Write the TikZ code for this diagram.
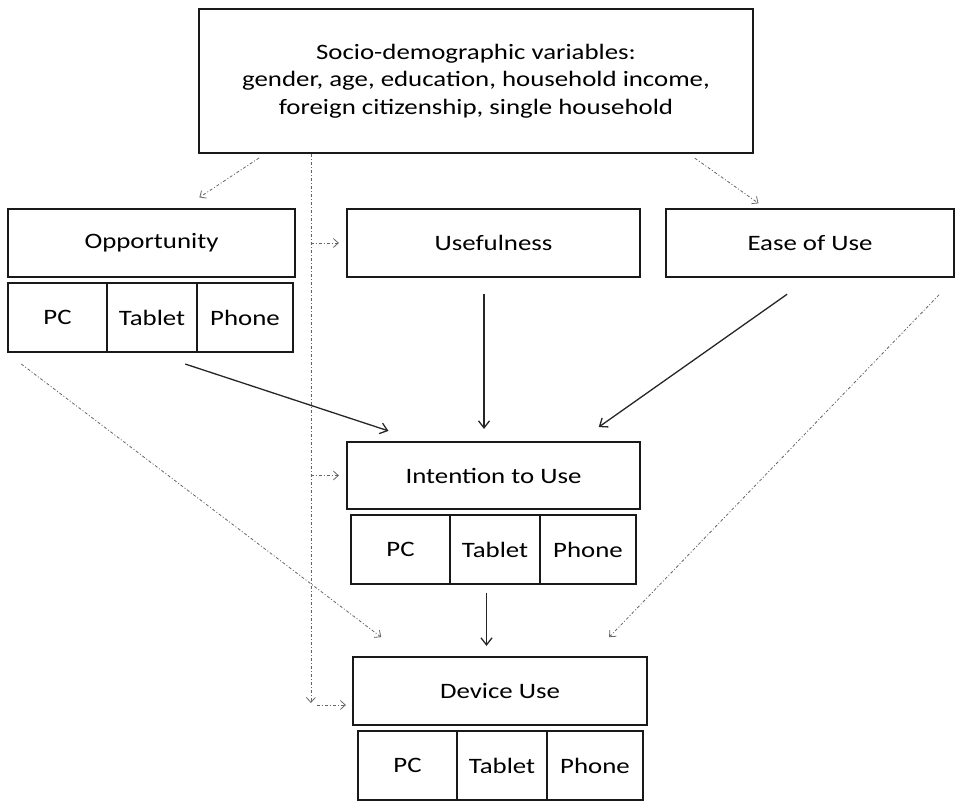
\documentclass[tikz,border=0pt]{standalone}
\usepackage{fontspec}
\setmainfont{Carlito}[FakeStretch=1.22]
\usepackage{tikz}
\usetikzlibrary{arrows.meta}

\tikzset{
    box/.style={draw=black!90, line width=2.2pt, inner sep=0pt, align=center,
        font=\fontsize{22}{27.5}\selectfont},
    cell/.style={box, minimum height=69pt},
    eff/.style={draw=black!85, line width=1.3pt, -{Straight Barb[length=7pt,width=11pt]}},
    dep/.style={draw=black!60, line width=0.8pt, dash pattern=on 3pt off 2pt on 1pt off 2pt,
        -{Straight Barb[length=5pt,width=9pt]}}
}

\begin{document}
\begin{tikzpicture}[x=1pt,y=-1pt]
        \useasboundingbox (0,0) rectangle (956,803);

        \node[box, minimum width=554pt, minimum height=144pt] (socio) at (476,81)
            {Socio-demographic variables:\\gender, age, education, household income,\\foreign citizenship, single household};
        \node[box, minimum width=287pt, minimum height=68pt] (opp) at (151.5,243) {Opportunity};
        \node[box, minimum width=293pt, minimum height=68pt] (useful) at (493.5,243) {Usefulness};
        \node[box, minimum width=288pt, minimum height=68pt] (ease) at (810,243) {Ease of Use};
        \node[box, minimum width=293pt, minimum height=67pt] (intent) at (493.5,475.5) {Intention to Use};
        \node[box, minimum width=294pt, minimum height=68pt] (device) at (500,691) {Device Use};

        \foreach \row/\lx/\cy in {opp/8/317.5,int/351/549.5,dev/358/765.5}{% device cells
            \node[cell, minimum width=99pt] (\row PC) at (\lx+49.5,\cy) {PC};
            \node[cell, minimum width=90pt] (\row Tablet) at (\lx+144,\cy) {Tablet};
            \node[cell, minimum width=96pt] (\row Phone) at (\lx+237,\cy) {Phone};
        }

        % direct effects
        \draw[eff, shorten <=35pt, shorten >=32pt] (oppTablet.south) -- ([xshift=73pt]intent.north west);
        \draw[eff, shorten <=16pt, shorten >=12pt] ([xshift=-9.5pt]useful.south) -- ([xshift=-9.5pt]intent.north);
        \draw[eff, shorten <=28pt, shorten >=24pt] (ease.south) -- ([xshift=-62pt]intent.north east);
        \draw[eff, shorten <=8pt, shorten >=10pt] ([xshift=-8.5pt]intTablet.south) -- ([xshift=-8.5pt]intTablet.south |- device.north);

        % control variables
        \coordinate (trunk) at ([xshift=113pt]socio.south west);
        \coordinate (devin) at ([yshift=-14pt]device.west);
        \draw[dep, shorten <=7pt, shorten >=19pt] ([xshift=67pt]socio.south west) -- ([xshift=32pt]opp.north);
        \draw[dep, shorten <=7pt, shorten >=8pt] ([xshift=-65pt]socio.south east) -- ([xshift=-45pt]ease.north);
        \draw[dep, shorten >=2pt] (trunk) -- (trunk |- devin);
        \draw[dep, shorten >=7pt] (trunk |- useful.west) -- (useful.west);
        \draw[dep, shorten >=7pt] (trunk |- intent.west) -- (intent.west);
        \draw[dep, shorten <=6pt, shorten >=6pt] (trunk |- devin) -- (devin);
        \draw[dep, shorten <=18pt, shorten >=31pt] (oppPC.south west) -- ([xshift=54pt]device.north west);
        \draw[dep, shorten <=23pt, shorten >=26pt] (ease.south east) -- ([xshift=-57pt]device.north east);
    \end{tikzpicture}
\end{document}
